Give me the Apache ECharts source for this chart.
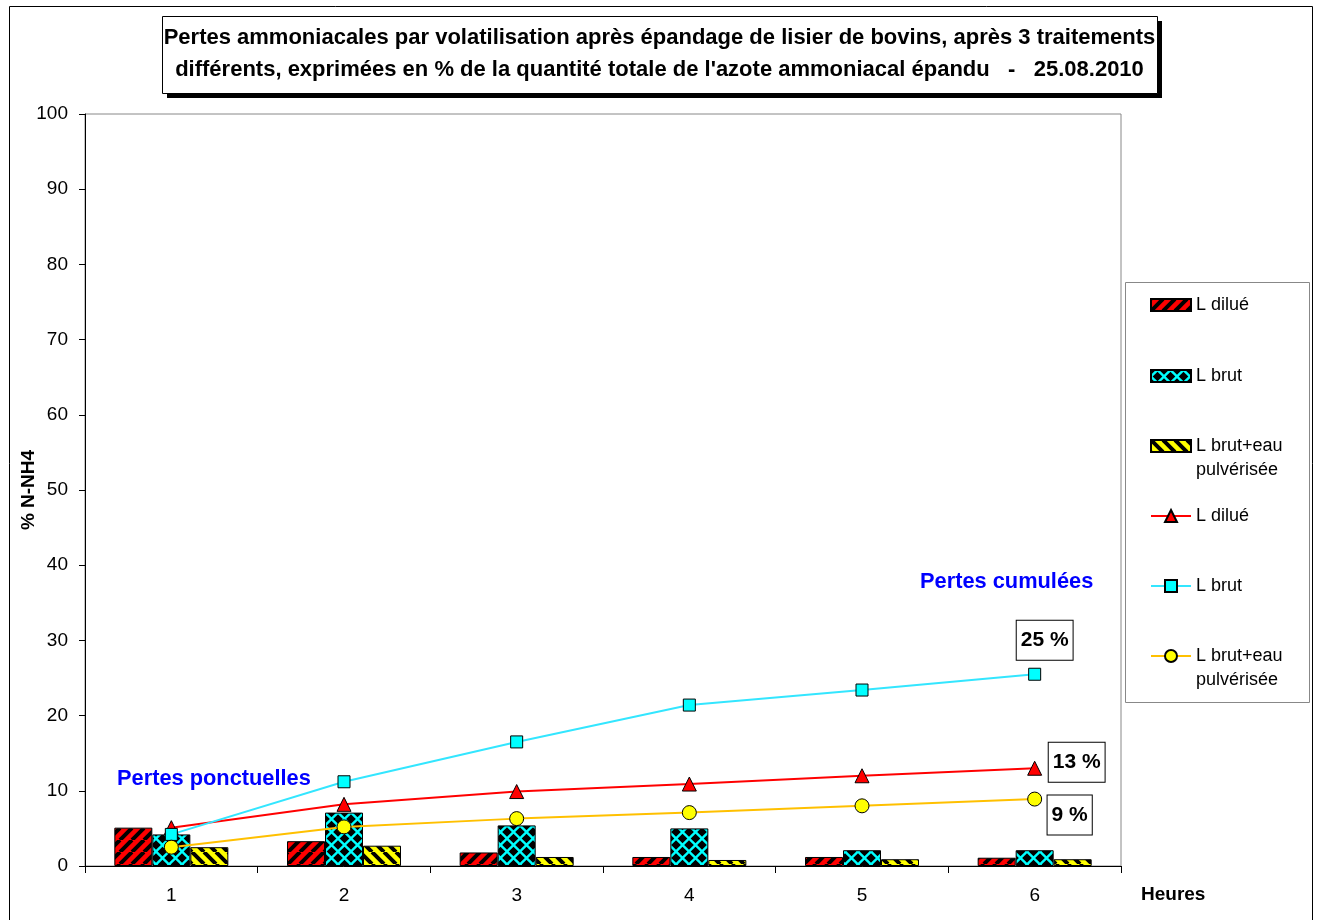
<!DOCTYPE html>
<html>
<head>
<meta charset="utf-8">
<script src="https://cdn.jsdelivr.net/npm/echarts@6/dist/echarts.min.js"></script>
<style>
html,body{margin:0;padding:0;background:#fff;}
#chart{width:1319px;height:920px;}
</style>
</head>
<body>
<div id="chart"></div>
<script>
// ---- data ----
const categories = ['1', '2', '3', '4', '5', '6'];
const barDilue = [5.1, 3.3, 1.8, 1.2, 1.2, 1.1];
const barBrut = [4.2, 7.1, 5.4, 5.0, 2.1, 2.1];
const barBrutEau = [2.5, 2.7, 1.2, 0.8, 0.9, 0.9];
const cumDilue = [5.1, 8.2, 9.9, 10.9, 12.0, 13.0];
const cumBrut = [4.2, 11.2, 16.5, 21.4, 23.4, 25.5];
const cumBrutEau = [2.5, 5.2, 6.3, 7.1, 8.0, 8.9];
const endLabels = { dilue: '13 %', brut: '25 %', eau: '9 %' };
const yTicks = { min: 0, max: 100, interval: 10 };
const titleText = "Pertes ammoniacales par volatilisation après épandage de lisier de bovins, après 3 traitements\ndifférents, exprimées en % de la quantité totale de l'azote ammoniacal épandu   -   25.08.2010";
const legendLabels = {
  bDilue: 'L dilué', bBrut: 'L brut', bEau: ' \nL brut+eau\npulvérisée',
  lDilue: 'L dilué', lBrut: 'L brut', lEau: ' \nL brut+eau\npulvérisée'
};

const FONT = "'Liberation Sans', Arial, sans-serif";

// ---- patterns ----
function stripes(bg, fg, size, lw, dir) {
  const c = document.createElement('canvas');
  c.width = c.height = size;
  const g = c.getContext('2d');
  g.fillStyle = bg; g.fillRect(0, 0, size, size);
  g.strokeStyle = fg; g.lineWidth = lw;
  g.beginPath();
  for (let k = -1; k <= 1; k++) {
    const x0 = k * size;
    if (dir === '/') { g.moveTo(x0, size); g.lineTo(x0 + size, 0); }
    else { g.moveTo(x0, 0); g.lineTo(x0 + size, size); }
  }
  g.stroke();
  return { image: c, repeat: 'repeat' };
}
function diamonds(bg, fg, size, r) {
  const c = document.createElement('canvas');
  c.width = c.height = size;
  const g = c.getContext('2d');
  g.fillStyle = bg; g.fillRect(0, 0, size, size);
  g.fillStyle = fg;
  const centers = [[size / 2, size / 2], [0, 0], [size, 0], [0, size], [size, size]];
  centers.forEach(([cx, cy]) => {
    g.beginPath();
    g.moveTo(cx, cy - r); g.lineTo(cx + r, cy); g.lineTo(cx, cy + r); g.lineTo(cx - r, cy);
    g.closePath(); g.fill();
  });
  return { image: c, repeat: 'repeat' };
}
const redPat = stripes('#FF0000', '#000000', 12, 4, '/');
const yelPat = stripes('#FFFF00', '#000000', 12, 4, '\\');
const cyanPat = diamonds('#00FFFF', '#000000', 13, 4.8);

const chart = echarts.init(document.getElementById('chart'));

function lastLabel(arr, text, offset) {
  return arr.map((v, i) => i === arr.length - 1 ? {
    value: v,
    label: {
      show: true, position: 'inside', offset: offset, formatter: text,
      fontSize: 21, fontWeight: 'bold', color: '#000', fontFamily: FONT,
      backgroundColor: '#fff', borderColor: '#000', borderWidth: 1,
      padding: [9, 4, 8, 4], lineHeight: 22
    }
  } : v);
}

const legendBase = {
  orient: 'vertical', left: 1150, padding: 0, itemWidth: 40, itemHeight: 12,
  selectedMode: false, formatter: n => legendLabels[n],
  textStyle: { fontSize: 18, lineHeight: 24, color: '#000', fontFamily: FONT }
};

const option = {
  animation: false,
  textStyle: { fontFamily: FONT },
  title: {
    text: titleText,
    left: 'center', top: 22, padding: 0,
    textStyle: { fontSize: 22, fontWeight: 'bold', color: '#000', lineHeight: 32, fontFamily: FONT }
  },
  grid: {
    left: 85, top: 114, right: 198, bottom: 54, show: true,
    borderColor: '#888', borderWidth: 1, backgroundColor: 'transparent',
    outerBoundsMode: 'none'
  },
  legend: [
    Object.assign({}, legendBase, { top: 305 - 12, data: [{ name: 'bDilue', icon: 'rect' }] }),
    Object.assign({}, legendBase, { top: 376 - 12, data: [{ name: 'bBrut', icon: 'rect' }] }),
    Object.assign({}, legendBase, { top: 446 - 36, data: [{ name: 'bEau', icon: 'rect' }] }),
    Object.assign({}, legendBase, { top: 516 - 12, itemHeight: 15, data: ['lDilue'] }),
    Object.assign({}, legendBase, { top: 586 - 12, itemHeight: 15, data: ['lBrut'] }),
    Object.assign({}, legendBase, { top: 656 - 36, itemHeight: 15, data: ['lEau'] })
  ],
  xAxis: {
    type: 'category', data: categories, boundaryGap: true,
    name: 'Heures', nameLocation: 'end', nameGap: 20, nameMoveOverlap: false,
    nameTextStyle: { fontSize: 19, fontWeight: 'bold', color: '#000', verticalAlign: 'top', padding: [19, 0, 0, 0], fontFamily: FONT },
    axisLine: { lineStyle: { color: '#000', width: 1 } },
    axisTick: { show: true, length: 7, lineStyle: { color: '#000' }, alignWithLabel: false },
    axisLabel: { fontSize: 19, color: '#000', margin: 20, fontFamily: FONT },
    splitLine: { show: false }
  },
  yAxis: {
    type: 'value', min: yTicks.min, max: yTicks.max, interval: yTicks.interval,
    name: '% N-NH4', nameLocation: 'middle', nameGap: 47, nameMoveOverlap: false,
    nameTextStyle: { fontSize: 19, fontWeight: 'bold', color: '#000', fontFamily: FONT },
    axisLine: { show: true, lineStyle: { color: '#000', width: 1 } },
    axisTick: { show: true, length: 6, lineStyle: { color: '#000' } },
    axisLabel: { fontSize: 19, color: '#000', margin: 17, fontFamily: FONT },
    splitLine: { show: false }
  },
  graphic: [
    { type: 'rect', silent: true, z: -10, shape: { x: 9.5, y: 6.5, width: 1303, height: 930 }, style: { fill: 'none', stroke: '#000', lineWidth: 1 } },
    { type: 'rect', silent: true, z: -5, shape: { x: 1125.5, y: 282.5, width: 184, height: 420 }, style: { fill: '#fff', stroke: '#888', lineWidth: 1 } },
    { type: 'rect', silent: true, z: -6, shape: { x: 167, y: 21, width: 995, height: 77 }, style: { fill: '#000', stroke: 'none' } },
    { type: 'rect', silent: true, z: -5, shape: { x: 162.5, y: 16.5, width: 995, height: 77 }, style: { fill: '#fff', stroke: '#000', lineWidth: 1 } },
    { type: 'text', silent: true, left: 920, top: 571, style: { text: 'Pertes cumulées', font: "bold 21.8px 'Liberation Sans', Arial, sans-serif", fill: '#0000FF' } },
    { type: 'text', silent: true, left: 117, top: 768, style: { text: 'Pertes ponctuelles', font: "bold 21.8px 'Liberation Sans', Arial, sans-serif", fill: '#0000FF' } }
  ],
  series: [
    { name: 'bDilue', type: 'bar', data: barDilue, barWidth: 38, barGap: '0%',
      itemStyle: { color: redPat, borderColor: '#000', borderWidth: 1 } },
    { name: 'bBrut', type: 'bar', data: barBrut, barWidth: 38, barGap: '0%',
      itemStyle: { color: cyanPat, borderColor: '#000', borderWidth: 1 } },
    { name: 'bEau', type: 'bar', data: barBrutEau, barWidth: 38, barGap: '0%',
      itemStyle: { color: yelPat, borderColor: '#000', borderWidth: 1 } },
    { name: 'lDilue', type: 'line', data: lastLabel(cumDilue, endLabels.dilue, [42, -6]),
      symbol: 'triangle', symbolSize: 14, z: 5,
      lineStyle: { color: '#FF0000', width: 2 },
      itemStyle: { color: '#FF0000', borderColor: '#000', borderWidth: 1 } },
    { name: 'lBrut', type: 'line', data: lastLabel(cumBrut, endLabels.brut, [10, -34]),
      symbol: 'rect', symbolSize: 12, z: 5,
      lineStyle: { color: '#33E6FF', width: 2 },
      itemStyle: { color: '#00FFFF', borderColor: '#000', borderWidth: 1 } },
    { name: 'lEau', type: 'line', data: lastLabel(cumBrutEau, endLabels.eau, [35, 16]),
      symbol: 'circle', symbolSize: 14, z: 5,
      lineStyle: { color: '#FFC000', width: 2 },
      itemStyle: { color: '#FFFF00', borderColor: '#000', borderWidth: 1 } }
  ]
};
chart.setOption(option);
</script>
</body>
</html>
